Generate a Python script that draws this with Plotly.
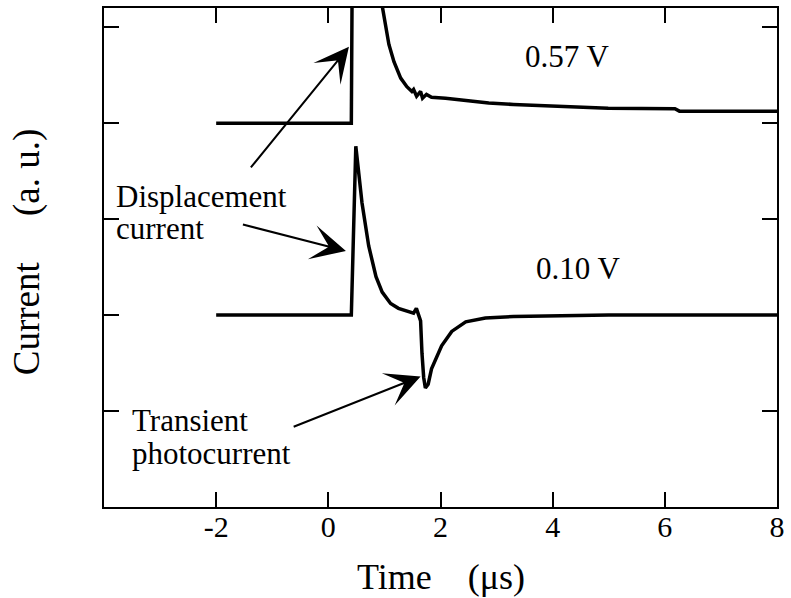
import plotly.graph_objects as go

# Time axis (microseconds) and current traces (arbitrary units, relative to each baseline)
t_010 = [-2.0, 0.41, 0.49, 0.60, 0.72, 0.85, 0.96, 1.11, 1.25, 1.43, 1.52, 1.57,
         1.645, 1.67, 1.70, 1.73, 1.78, 1.84, 2.02, 2.20, 2.45, 2.80, 3.30, 3.87, 5.0, 8.0]
i_010 = [0.0, 0.0, 1.76, 1.17, 0.72, 0.40, 0.24, 0.12, 0.07, 0.04, 0.02, 0.07,
         -0.06, -0.40, -0.65, -0.76, -0.72, -0.56, -0.32, -0.17, -0.07, -0.03, -0.015, -0.01, 0.0, 0.0]

t_057 = [-2.0, 0.41, 0.43, 0.50, 0.70, 0.90, 0.97, 1.03, 1.08, 1.17, 1.29, 1.40, 1.49,
         1.52, 1.574, 1.645, 1.68, 1.75, 1.84, 2.09, 2.50, 2.86, 3.30, 3.87, 4.50, 4.99,
         6.18, 6.26, 8.0]
i_057 = [0.0, 0.0, 2.0, 2.6, 2.1, 1.45, 1.18, 0.99, 0.82, 0.64, 0.47, 0.38, 0.33,
         0.35, 0.28, 0.33, 0.26, 0.30, 0.27, 0.26, 0.235, 0.21, 0.195, 0.18, 0.165, 0.156,
         0.15, 0.125, 0.125]

# vertical offsets separating the two bias voltages
offset_010 = 0.0
offset_057 = 2.0

x_ticks = [-2, 0, 2, 4, 6, 8]
x_tick_text = ["-2", "0", "2", "4", "6", "8"]
y_ticks = [-1, 0, 1, 2, 3]

SERIF = "Liberation Serif, Times New Roman, Times, serif"

fig = go.Figure()
fig.add_trace(go.Scatter(x=t_057, y=[v + offset_057 for v in i_057], mode="lines",
                         line=dict(color="black", width=3.5), showlegend=False))
fig.add_trace(go.Scatter(x=t_010, y=[v + offset_010 for v in i_010], mode="lines",
                         line=dict(color="black", width=3.5), showlegend=False))

annotations = []


def label(text, x, y, xanchor="left"):
    annotations.append(dict(text=text, x=x, y=y, xref="x", yref="y", showarrow=False,
                            xanchor=xanchor, yanchor="middle",
                            font=dict(family=SERIF, size=31, color="black")))


def arrow(x_tail, y_tail, x_tip, y_tip):
    annotations.append(dict(text=" ", x=x_tip, y=y_tip, ax=x_tail, ay=y_tail,
                            xref="x", yref="y", axref="x", ayref="y",
                            showarrow=True, arrowhead=3, arrowsize=2.9, arrowwidth=2,
                            arrowcolor="black", font=dict(size=1)))


label("Displacement", -3.823, 1.24)
label("current", -3.823, 0.906)
label("Transient", -3.538, -1.097)
label("photocurrent", -3.538, -1.439)
label("0.57 V", 4.255, 2.69, xanchor="center")
label("0.10 V", 4.45, 0.49, xanchor="center")

arrow(-1.408, 1.519, 0.367, 2.795)
arrow(-1.55, 0.948, 0.314, 0.668)
arrow(-0.645, -1.17, 1.645, -0.64)

# axis titles
annotations.append(dict(text="Time\u00a0\u00a0\u00a0\u00a0(\u03bcs)", x=0.5007, y=-0.14,
                        xref="paper", yref="paper", showarrow=False,
                        xanchor="center", yanchor="middle",
                        font=dict(family=SERIF, size=36, color="black")))
annotations.append(dict(text="Current\u00a0\u00a0\u00a0\u00a0\u00a0(a.\u00a0u.)", x=-0.114, y=0.511,
                        xref="paper", yref="paper", showarrow=False, textangle=-90,
                        xanchor="center", yanchor="middle",
                        font=dict(family=SERIF, size=37, color="black")))

axis_common = dict(showline=True, linewidth=2, linecolor="black", mirror="ticks",
                   ticks="inside", ticklen=15, tickwidth=2, tickcolor="black",
                   showgrid=False, zeroline=False)

fig.update_layout(
    width=791, height=598,
    margin=dict(l=104, r=11, t=6, b=91),
    paper_bgcolor="white", plot_bgcolor="white",
    xaxis=dict(range=[-4, 8], tickvals=x_ticks, ticktext=x_tick_text,
               tickfont=dict(family=SERIF, size=30, color="black"),
               ticklabelstandoff=-8, **axis_common),
    yaxis=dict(range=[-2, 3.2], tickvals=y_ticks, showticklabels=False, **axis_common),
    annotations=annotations,
)

fig.write_html("out.html")
